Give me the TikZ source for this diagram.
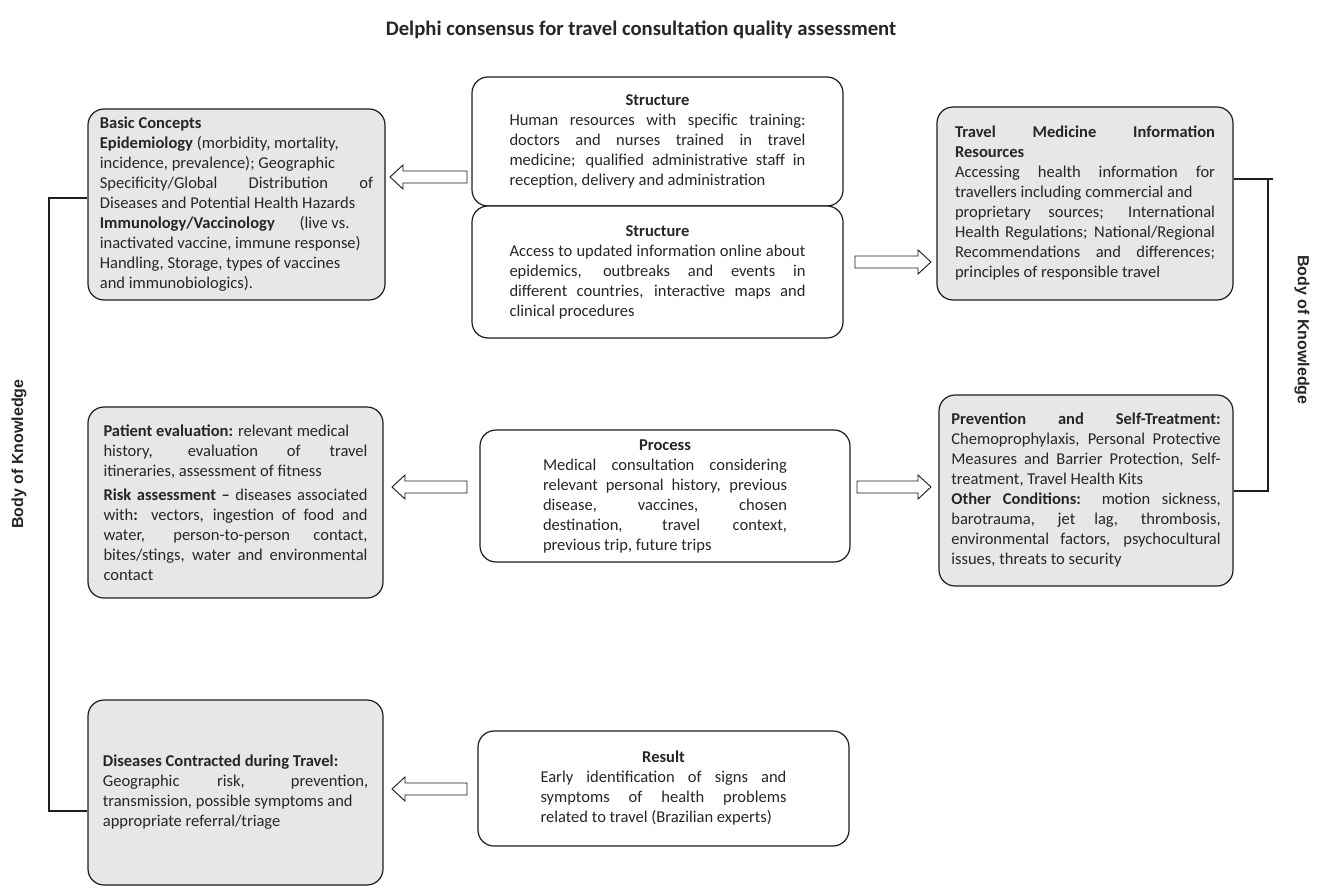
\documentclass[tikz,border=0pt]{standalone}
\usepackage{fontspec}
\setmainfont{Carlito}
\newfontfamily\arialf{Liberation Sans}
\definecolor{boxfill}{HTML}{E7E7E7}
\definecolor{txt}{HTML}{262626}
\definecolor{ln}{HTML}{1E1E1E}
\hyphenpenalty=10000
\newcommand\myLarrow[3]{\draw[barrow] (#1,#3) -- ({#1+13},{#3-12}) -- ({#1+13},{#3-6}) -- (#2,{#3-6}) -- (#2,{#3+6}) -- ({#1+13},{#3+6}) -- ({#1+13},{#3+12}) -- cycle;}
\newcommand\myRarrow[3]{\draw[barrow] (#2,#3) -- ({#2-13},{#3-12}) -- ({#2-13},{#3-6}) -- (#1,{#3-6}) -- (#1,{#3+6}) -- ({#2-13},{#3+6}) -- ({#2-13},{#3+12}) -- cycle;}
\begin{document}
\begin{tikzpicture}[x=0.75pt,y=-0.75pt,
  basebox/.style={draw=ln, line width=0.9pt, rounded corners=12pt, inner sep=3pt, align=justify, text=txt,
     font=\fontsize{12.4}{15}\selectfont},
  graybox/.style={basebox, fill=boxfill},
  whitebox/.style={basebox, fill=white},
  barrow/.style={draw=ln, line width=0.7pt, fill=white},
  bracket/.style={draw=ln, line width=0.8pt},
  bok/.style={font=\arialf\bfseries\fontsize{12}{14}\selectfont, text=txt}]
\useasboundingbox (0,0) rectangle (1319,888);

\node[font=\bfseries\fontsize{15.5}{18}\selectfont, text=txt] (title) at (641,30) {Delphi consensus for travel consultation quality assessment};

% left column
\node[graybox, minimum width=297*0.75pt, minimum height=191*0.75pt, text width=205pt] (basic) at (236.5,204.5) {%
\textbf{Basic Concepts}\\
\textbf{Epidemiology} (morbidity, mortality,\\
incidence, prevalence); Geographic\\
Specificity/Global Distribution of\linebreak
Diseases and Potential Health Hazards\\
\textbf{Immunology/Vaccinology}\hspace{1.5em}(live vs.\\
inactivated vaccine, immune response)\\
Handling, Storage, types of vaccines\\
and immunobiologics).};

\node[graybox, minimum width=295*0.75pt, minimum height=191*0.75pt, text width=198pt] (patient) at (235.5,502.5) {%
\textbf{Patient evaluation:} relevant medical\\
history, evaluation of travel\linebreak
itineraries, assessment of fitness\par\vspace{3pt}
\textbf{Risk assessment --} diseases associated\linebreak
with\textbf{:} vectors, ingestion of food and\linebreak
water, person-to-person contact,\linebreak
bites/stings, water and environmental\linebreak
contact};

\node[graybox, minimum width=295*0.75pt, minimum height=185*0.75pt, text width=199pt] (dis) at (235.5,792.5) {%
\textbf{Diseases Contracted during Travel:}\\
Geographic risk, prevention,\linebreak
transmission, possible symptoms and\\
appropriate referral/triage};

% middle column
\node[whitebox, minimum width=371*0.75pt, minimum height=129*0.75pt, text width=222pt] (s1) at (657.5,141.5) {%
{\centering\textbf{Structure}\par}
Human resources with specific training:\linebreak
doctors and nurses trained in travel\linebreak
medicine; qualified administrative staff in\linebreak
reception, delivery and administration};

\node[whitebox, minimum width=371*0.75pt, minimum height=132*0.75pt, text width=222pt] (s2) at (657.5,272) {%
{\centering\textbf{Structure}\par}
Access to updated information online about\linebreak
epidemics, outbreaks and events in\linebreak
different countries, interactive maps and\linebreak
clinical procedures};

\node[whitebox, minimum width=370*0.75pt, minimum height=132*0.75pt, text width=183pt] (proc) at (665,496) {%
{\centering\textbf{Process}\par}
Medical consultation considering\linebreak
relevant personal history, previous\linebreak
disease, vaccines, chosen\linebreak
destination, travel context,\linebreak
previous trip, future trips};

\node[whitebox, minimum width=371*0.75pt, minimum height=115*0.75pt, text width=184.5pt] (res) at (663.5,788.5) {%
{\centering\textbf{Result}\par}
Early identification of signs and\linebreak
symptoms of health problems\linebreak
related to travel (Brazilian experts)};

% right column
\node[graybox, minimum width=296*0.75pt, minimum height=193*0.75pt, text width=195pt] (travel) at (1085,203.5) {%
\textbf{Travel Medicine Information}\linebreak
\textbf{Resources}\\
Accessing health information for\linebreak
travellers including commercial and\\
proprietary sources; International\linebreak
Health Regulations; National/Regional\linebreak
Recommendations and differences;\linebreak
principles of responsible travel};

\node[graybox, minimum width=294*0.75pt, minimum height=191*0.75pt, text width=202pt] (prev) at (1086,490.5) {%
\textbf{Prevention and Self-Treatment:}\linebreak
Chemoprophylaxis, Personal Protective\linebreak
Measures and Barrier Protection, Self-\linebreak
treatment, Travel Health Kits\\
\textbf{Other Conditions:} motion sickness,\linebreak
barotrauma, jet lag, thrombosis,\linebreak
environmental factors, psychocultural\linebreak
issues, threats to security};

% block arrows
\myLarrow{390}{467}{177}
\myRarrow{855}{931}{262}
\myLarrow{392}{467}{487}
\myRarrow{857}{931}{487}
\myLarrow{392}{467}{789}

% brackets
\coordinate (lt) at (49,198);
\coordinate (lb) at (49,811);
\draw[bracket] (basic.west |- lt) -- (lt) -- (lb) -- (dis.west |- lb);
\coordinate (rt) at (1268,179);
\coordinate (rtx) at (1273,179);
\coordinate (rb) at (1268,491);
\draw[bracket] (travel.east |- rt) -- (rtx);
\draw[bracket] (rt) -- (rb) -- (prev.east |- rb);

\node[bok, rotate=90] (bokl) at (19,454) {Body of Knowledge};
\node[bok, rotate=-90] (bokr) at (1302,330) {Body of Knowledge};
\end{tikzpicture}
\end{document}
